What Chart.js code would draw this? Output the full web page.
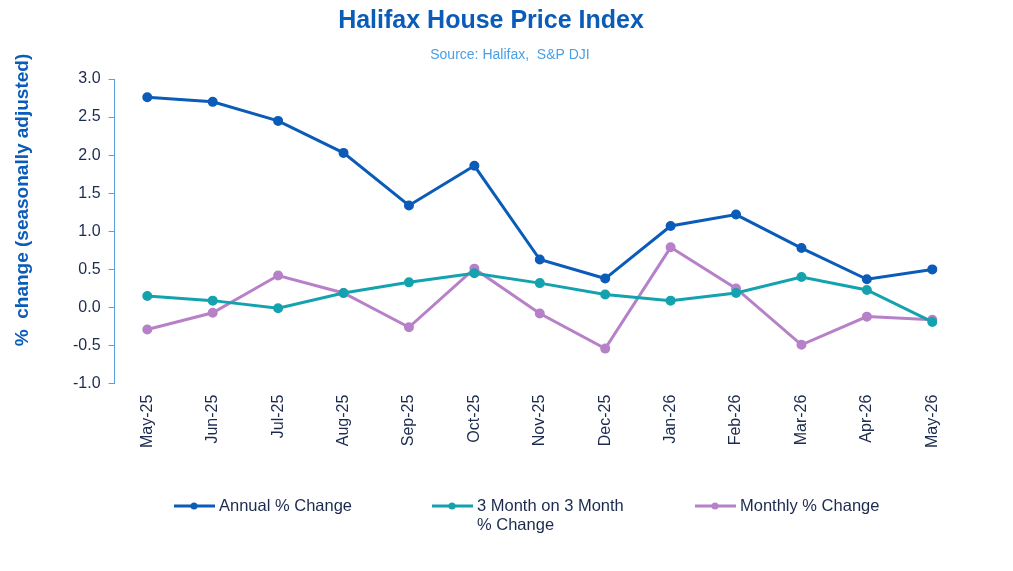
<!DOCTYPE html>
<html>
<head>
<meta charset="utf-8">
<script src="https://cdn.jsdelivr.net/npm/chart.js@4.4.1/dist/chart.umd.min.js"></script>
<style>
    html, body { margin: 0; padding: 0; background: #fff; }
    #wrap { width: 1013px; height: 571px; position: relative; }
</style>
</head>
<body>
<div id="wrap"><canvas id="hpiChart"></canvas></div>
<script>
// months on the x axis
const months = ['May-25', 'Jun-25', 'Jul-25', 'Aug-25', 'Sep-25', 'Oct-25', 'Nov-25',
    'Dec-25', 'Jan-26', 'Feb-26', 'Mar-26', 'Apr-26', 'May-26'];

// % change series
const annualChange = [2.76, 2.70, 2.45, 2.03, 1.34, 1.86, 0.63, 0.38, 1.07, 1.22, 0.78, 0.37, 0.50];
const threeMonthChange = [0.15, 0.09, -0.01, 0.19, 0.33, 0.45, 0.32, 0.17, 0.09, 0.19, 0.40, 0.23, -0.19];
const monthlyChange = [-0.29, -0.07, 0.42, 0.19, -0.26, 0.51, -0.08, -0.54, 0.79, 0.25, -0.49, -0.12, -0.16];

const seriesNames = ['Annual % Change', ['3 Month on 3 Month', '% Change'], 'Monthly % Change'];

const yTicks = { min: -1, max: 3, step: 0.5 };

const BLUE = '#0a5cb8';
const NAVY = '#1b2a4e';
const FONT = "'Liberation Sans', Arial, sans-serif";

// titles, y axis caption and legend, placed like the original
const decorations = {
    id: 'decorations',
    afterDraw(chart) {
        const ctx = chart.ctx;
        ctx.save();
        ctx.textAlign = 'center';
        ctx.textBaseline = 'middle';

        ctx.fillStyle = BLUE;
        ctx.font = 'bold 25px ' + FONT;
        ctx.fillText('Halifax House Price Index', 491, 21);

        ctx.fillStyle = '#4a9fe6';
        ctx.font = '14px ' + FONT;
        ctx.fillText('Source: Halifax,  S&P DJI', 510, 55);

        ctx.save();
        ctx.translate(23, 200);
        ctx.rotate(-Math.PI / 2);
        ctx.fillStyle = BLUE;
        ctx.font = 'bold 19px ' + FONT;
        ctx.fillText('%  change (seasonally adjusted)', 0, 0);
        ctx.restore();

        // legend
        const slots = [174, 432, 695];
        const y = 506;
        ctx.textAlign = 'left';
        ctx.font = '16.5px ' + FONT;
        chart.data.datasets.forEach((ds, i) => {
            const x = slots[i];
            ctx.strokeStyle = ds.borderColor;
            ctx.lineWidth = 3;
            ctx.beginPath();
            ctx.moveTo(x, y);
            ctx.lineTo(x + 41, y);
            ctx.stroke();
            ctx.fillStyle = ds.borderColor;
            ctx.beginPath();
            ctx.arc(x + 20, y, 3.5, 0, Math.PI * 2);
            ctx.fill();
            ctx.fillStyle = NAVY;
            const lines = Array.isArray(ds.label) ? ds.label : [ds.label];
            lines.forEach((t, k) => ctx.fillText(t, x + 45, y + k * 19));
        });
        ctx.restore();
    }
};

const lineStyle = (color) => ({
    borderColor: color,
    backgroundColor: color,
    borderWidth: 3,
    pointRadius: 3.5,
    pointHoverRadius: 3.5,
    pointBackgroundColor: color,
    pointBorderColor: color,
    tension: 0,
    fill: false
});

new Chart(document.getElementById('hpiChart'), {
    type: 'line',
    data: {
        labels: months,
        datasets: [
            Object.assign({ label: seriesNames[0], data: annualChange }, lineStyle(BLUE)),
            Object.assign({ label: seriesNames[1], data: threeMonthChange }, lineStyle('#14a2ae')),
            Object.assign({ label: seriesNames[2], data: monthlyChange }, lineStyle('#b681c8'))
        ]
    },
    plugins: [decorations],
    options: {
        responsive: true,
        maintainAspectRatio: false,
        animation: false,
        layout: { padding: { left: 65, right: 48, top: 79, bottom: 120 } },
        scales: {
            x: {
                offset: true,
                grid: { display: false },
                border: { display: false },
                ticks: {
                    color: NAVY,
                    font: { family: FONT, size: 16 },
                    minRotation: 90,
                    maxRotation: 90,
                    autoSkip: false,
                    padding: 3
                }
            },
            y: {
                min: yTicks.min,
                max: yTicks.max,
                grid: { drawOnChartArea: false, color: '#5b9ee2', tickLength: 6 },
                border: { display: true, color: '#5b9ee2', width: 1 },
                ticks: {
                    stepSize: yTicks.step,
                    color: NAVY,
                    font: { family: FONT, size: 16 },
                    padding: 8,
                    callback: (v) => v.toFixed(1)
                }
            }
        },
        plugins: {
            legend: { display: false },
            tooltip: { enabled: false }
        }
    }
});
</script>
</body>
</html>
